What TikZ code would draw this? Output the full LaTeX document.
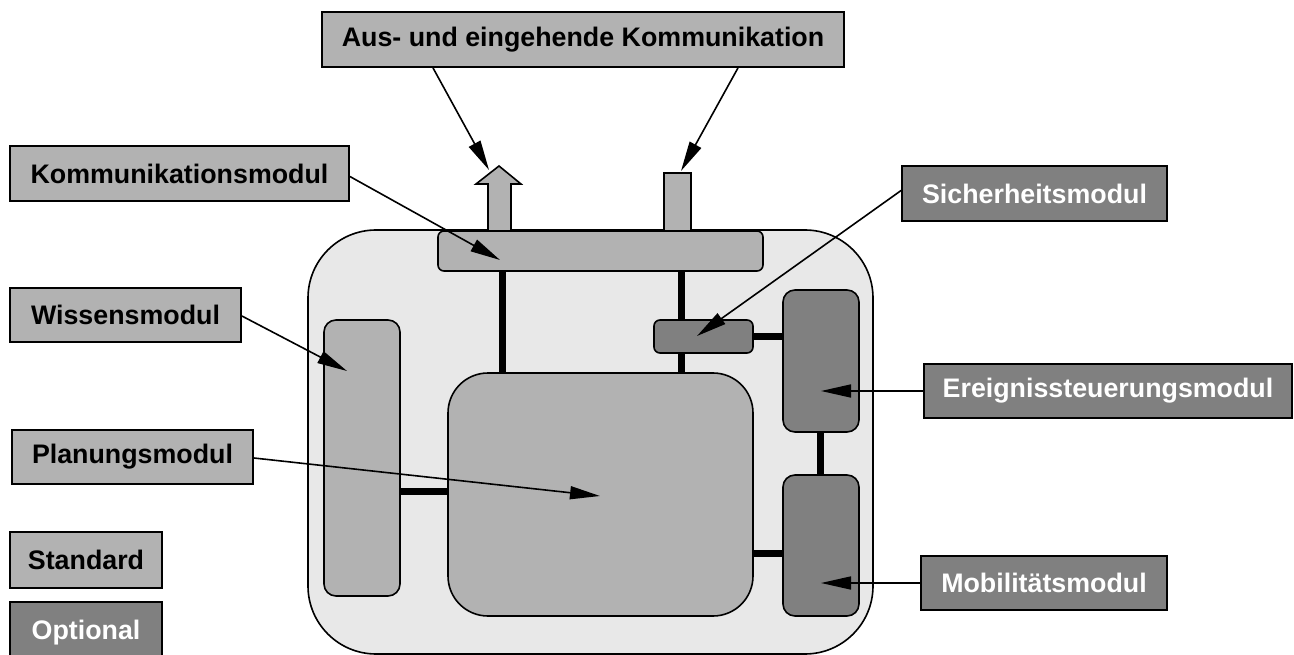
\documentclass[tikz,border=0pt]{standalone}
\usepackage{fontspec}
\setmainfont{Liberation Sans}
\usetikzlibrary{arrows.meta}
\definecolor{stdgray}{gray}{0.70}
\definecolor{optgray}{gray}{0.50}
\definecolor{housegray}{gray}{0.91}
\tikzset{
  lab/.style={draw=black, line width=1.8pt, inner sep=0pt, font=\fontsize{26.8}{31}\selectfont\bfseries},
  stdlab/.style={lab, fill=stdgray, text=black},
  optlab/.style={lab, fill=optgray, text=white},
  part/.style={draw=black, line width=1.6pt},
  link/.style={line width=7pt, black},
  pointer/.style={line width=1.6pt, -{Triangle[length=30pt,width=13pt]}},
}
\begin{document}
\begin{tikzpicture}[x=1pt, y=-1pt]
\useasboundingbox (0,0) rectangle (1294,655);
\clip (0,0) rectangle (1294,655);

% robot housing
\draw[part, fill=housegray, rounded corners=68pt] (308,230) rectangle (873,654);

% internal links
\draw[link] (502,270) -- (502,373);
\draw[link] (681,270) -- (681,373);
\draw[link] (752,336) -- (783,336);
\draw[link] (820,431) -- (820,475);
\draw[link] (399,491) -- (449,491);
\draw[link] (753,553) -- (783,553);

% outgoing arrow and incoming stub
\draw[part, fill=stdgray] (488,231) -- (488,184) -- (476,184) -- (499,166) -- (521,184) -- (511,184) -- (511,231);
\draw[part, fill=stdgray] (664,231) -- (664,173) -- (691,173) -- (691,231);
\coordinate (outtip) at (489,170);
\coordinate (intip) at (681,171);

% modules
\draw[part, fill=stdgray, rounded corners=6pt] (438,231) rectangle (763,271);
\coordinate (commpt) at (500,260);
\draw[part, fill=stdgray, rounded corners=12pt] (324,320) rectangle (400,596);
\coordinate (wisspt) at (347,371);
\draw[part, fill=stdgray, rounded corners=40pt] (448,373) rectangle (753,616);
\coordinate (planpt) at (600,496);
\draw[part, fill=optgray, rounded corners=6pt] (654,320) rectangle (753,353);
\coordinate (sichpt) at (697,336);
\draw[part, fill=optgray, rounded corners=12pt] (783,290) rectangle (859,432);
\coordinate (ereipt) at (821,391);
\draw[part, fill=optgray, rounded corners=12pt] (783,475) rectangle (859,616);
\coordinate (mobipt) at (821,583);

% labels
\node[stdlab, minimum width=522pt, minimum height=55pt] (komm) at (583,39.5) {Aus- und eingehende Kommunikation};
\node[stdlab, minimum width=339pt, minimum height=55pt] (kmod) at (179.5,173.5) {Kommunikationsmodul};
\node[stdlab, minimum width=231pt, minimum height=54pt] (wmod) at (125.5,315) {Wissensmodul};
\node[stdlab, minimum width=241pt, minimum height=54pt] (pmod) at (132.5,457) {Planungsmodul};
\node[stdlab, minimum width=152pt, minimum height=56pt] (std) at (86,560) {Standard};
\node[optlab, minimum width=152pt, minimum height=56pt, text depth=0pt] (opt) at (86,630) {Optional};
\node[optlab, minimum width=265pt, minimum height=55pt] (smod) at (1034.5,193.5) {Sicherheitsmodul};
\node[optlab, minimum width=368pt, minimum height=54pt] (emod) at (1108,391) {Ereignissteuerungsmodul};
\node[optlab, minimum width=246pt, minimum height=54pt] (mmod) at (1044,583) {Mobilitätsmodul};

% pointers
\draw[pointer] ([xshift=-150pt]komm.south) -- (outtip);
\draw[pointer] ([xshift=155pt]komm.south) -- (intip);
\draw[pointer] ([yshift=-3pt]kmod.east) -- (commpt);
\draw[pointer] ([yshift=-1pt]wmod.east) -- (wisspt);
\draw[pointer] ([yshift=-1pt]pmod.east) -- (planpt);
\draw[pointer] ([yshift=3pt]smod.west) -- (sichpt);
\draw[pointer] (emod.west) -- (ereipt);
\draw[pointer] (mmod.west) -- (mobipt);
\end{tikzpicture}
\end{document}
